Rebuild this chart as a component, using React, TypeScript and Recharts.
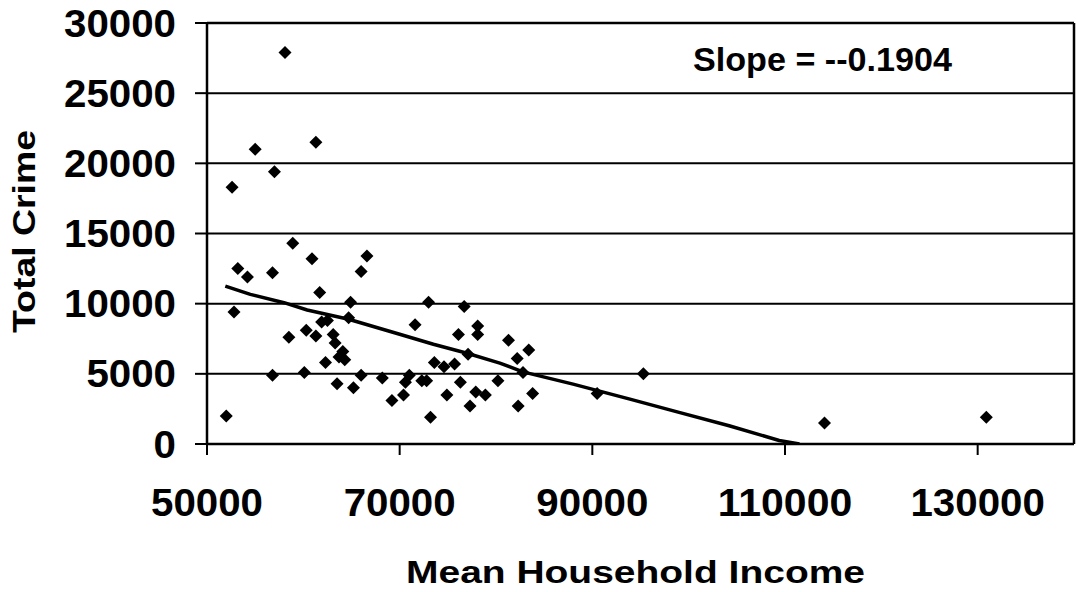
import React from 'react';
import {
  ScatterChart,
  Scatter,
  XAxis,
  YAxis,
  CartesianGrid,
  ReferenceLine,
} from 'recharts';

// values
const income = [
  58100, 55000, 61300, 57000, 52600, 58900, 53200, 54200, 56800, 60900,
  66600, 66000, 61700, 64900, 52800, 73000, 76700, 61900, 62500, 64700,
  71600, 78100, 78100, 76100, 60300, 58500, 61300, 63100, 63300, 64100,
  63700, 64300, 62300, 73600, 74600, 75700, 77100, 56800, 60100, 63500,
  65200, 66000, 68200, 71000, 70600, 72300, 72800, 76300, 77900, 78900,
  80200, 74900, 70400, 69200, 77300, 73200, 52000, 81300, 83400, 82200,
  82800, 83800, 82300, 90500, 95300, 114100, 130900,
];
const crime = [
  27900, 21000, 21500, 19400, 18300, 14300, 12500, 11900, 12200, 13200,
  13400, 12300, 10800, 10100, 9400, 10100, 9800, 8700, 8800, 9000,
  8500, 8400, 7800, 7800, 8100, 7600, 7700, 7800, 7200, 6600,
  6200, 6000, 5800, 5800, 5500, 5700, 6400, 4900, 5100, 4300,
  4000, 4900, 4700, 4900, 4400, 4500, 4500, 4400, 3700, 3500,
  4500, 3500, 3500, 3100, 2700, 1900, 2000, 7400, 6700, 6100,
  5100, 3600, 2700, 3600, 5000, 1500, 1900,
];

// trend line as drawn in the picture
const trendIncome = [51900, 54500, 58000, 60400, 64700, 70000, 73500, 77000, 80400, 82800, 88000, 93900, 99000, 104200, 109400, 111500];
const trendCrime = [11250, 10660, 10070, 9550, 8890, 7820, 7110, 6470, 5760, 5140, 4270, 3200, 2250, 1300, 250, 0];

const xTicks = [50000, 70000, 90000, 110000, 130000];
const yTicks = [0, 5000, 10000, 15000, 20000, 25000, 30000];

const points = income.map((x, i) => ({ x, y: crime[i] }));
const trend = trendIncome.map((x, i) => ({ x, y: trendCrime[i] }));

const FONT = '"Liberation Sans", Arial, sans-serif';

const Diamond = (props: any) => {
  const { cx, cy } = props;
  const r = 6.5;
  return <path d={`M${cx},${cy - r}L${cx + r},${cy}L${cx},${cy + r}L${cx - r},${cy}Z`} fill="#000" />;
};

const XTick = (props: any) => {
  const { x, payload } = props;
  const label = String(payload.value);
  return (
    <text x={x} y={516} textAnchor="middle" fontFamily={FONT} fontWeight="bold" fontSize={38} fill="#000"
      textLength={label.length * 22.4} lengthAdjust="spacingAndGlyphs">
      {label}
    </text>
  );
};

const YTick = (props: any) => {
  const { y, payload } = props;
  const label = String(payload.value);
  return (
    <text x={176} y={y + 13.6} textAnchor="end" fontFamily={FONT} fontWeight="bold" fontSize={38} fill="#000"
      textLength={label.length * 22.4} lengthAdjust="spacingAndGlyphs">
      {label}
    </text>
  );
};

export default function App() {
  return (
    <div style={{ position: 'absolute', left: 0, top: 0, width: 1076, height: 592, background: '#fff' }}>
      <ScatterChart width={1076} height={592} margin={{ top: 23, right: 2, left: 0, bottom: 0 }}>
        <CartesianGrid vertical={false} stroke="#000" strokeWidth={2} strokeOpacity={1} />
        <XAxis
          type="number"
          dataKey="x"
          domain={[50000, 140000]}
          ticks={xTicks}
          allowDataOverflow
          height={148}
          tickSize={11}
          tick={<XTick />}
          axisLine={{ stroke: '#000', strokeWidth: 2.5 }}
          tickLine={{ stroke: '#000', strokeWidth: 2 }}
        />
        <YAxis
          type="number"
          dataKey="y"
          domain={[0, 30000]}
          ticks={yTicks}
          allowDataOverflow
          width={207}
          tickSize={12}
          tick={<YTick />}
          axisLine={{ stroke: '#000', strokeWidth: 2.5 }}
          tickLine={{ stroke: '#000', strokeWidth: 2 }}
        />
        <ReferenceLine y={30000} stroke="#000" strokeWidth={2.5} />
        <ReferenceLine x={140000} stroke="#000" strokeWidth={2.5} />
        <Scatter data={points} shape={<Diamond />} isAnimationActive={false} />
        <Scatter
          data={trend}
          shape={() => <g />}
          stroke="#000"
          strokeWidth={3.5}
          line={{ stroke: '#000', strokeWidth: 3.5, strokeLinejoin: 'round' }}
          isAnimationActive={false}
        />
        <text x={693} y={71} fontFamily={FONT} fontWeight="bold" fontSize={34} fill="#000"
          textLength={259} lengthAdjust="spacingAndGlyphs">
          Slope = --0.1904
        </text>
        <text x={635.5} y={583} textAnchor="middle" fontFamily={FONT} fontWeight="bold" fontSize={32} fill="#000"
          textLength={459} lengthAdjust="spacingAndGlyphs">
          Mean Household Income
        </text>
        <text transform="translate(35, 231.5) rotate(-90)" x={0} y={0} textAnchor="middle" fontFamily={FONT}
          fontWeight="bold" fontSize={31} fill="#000" textLength={203} lengthAdjust="spacingAndGlyphs">
          Total Crime
        </text>
      </ScatterChart>
    </div>
  );
}
